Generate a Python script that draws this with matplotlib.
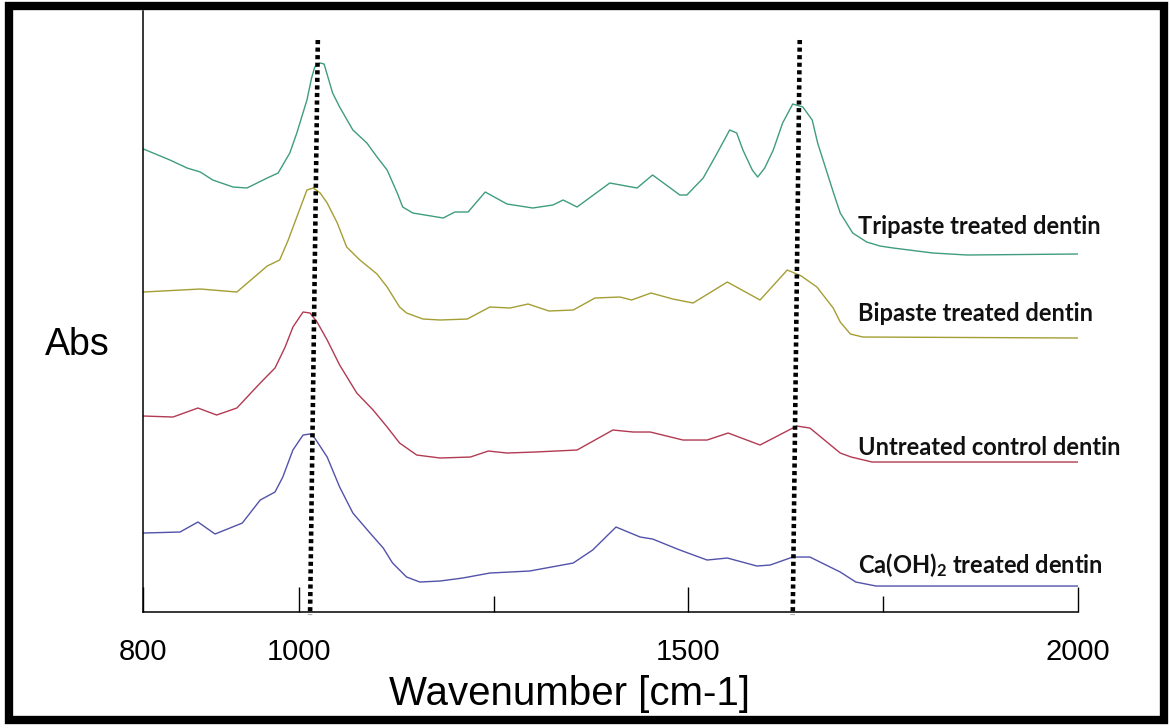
import matplotlib
matplotlib.use("Agg")
import matplotlib.pyplot as plt
from matplotlib.patches import Rectangle

# wavenumber [cm-1] and absorbance (arbitrary, offset stacked)
tri_wn = [800, 834, 856, 873, 889, 915, 933, 959, 973, 988, 997, 1010, 1016, 1020, 1027, 1032,
          1043, 1052, 1069, 1087, 1100, 1113, 1126, 1133, 1146, 1185, 1200, 1217, 1239, 1267,
          1300, 1326, 1339, 1357, 1399, 1434, 1454, 1489, 1498, 1519, 1537, 1553, 1562, 1570,
          1582, 1589, 1598, 1609, 1621, 1634, 1647, 1659, 1666, 1686, 1695, 1711, 1729, 1746,
          1763, 1814, 1858, 2000]
tri_abs = [4.63, 4.52, 4.44, 4.40, 4.32, 4.25, 4.24, 4.34, 4.39, 4.59, 4.79, 5.12, 5.34, 5.45,
           5.49, 5.48, 5.19, 5.05, 4.82, 4.69, 4.55, 4.42, 4.19, 4.05, 3.99, 3.94, 4.00, 4.00,
           4.20, 4.08, 4.04, 4.07, 4.12, 4.05, 4.29, 4.24, 4.37, 4.17, 4.17, 4.34, 4.59, 4.82,
           4.79, 4.62, 4.42, 4.35, 4.44, 4.62, 4.89, 5.08, 5.05, 4.92, 4.69, 4.20, 3.99, 3.79,
           3.70, 3.66, 3.64, 3.59, 3.57, 3.58]

bi_wn = [800, 873, 920, 959, 975, 986, 997, 1010, 1018, 1027, 1036, 1049, 1061, 1078, 1100,
         1113, 1129, 1138, 1159, 1181, 1216, 1245, 1271, 1294, 1321, 1352, 1380, 1412, 1427,
         1452, 1480, 1506, 1550, 1592, 1627, 1645, 1665, 1686, 1695, 1708, 1724, 2000]
bi_abs = [3.20, 3.23, 3.20, 3.46, 3.52, 3.72, 3.95, 4.22, 4.24, 4.19, 4.09, 3.89, 3.65, 3.52, 3.38,
          3.25, 3.05, 2.99, 2.93, 2.92, 2.93, 3.05, 3.04, 3.08, 3.01, 3.02, 3.14, 3.15, 3.12,
          3.19, 3.13, 3.09, 3.30, 3.12, 3.42, 3.36, 3.25, 3.04, 2.90, 2.78, 2.75, 2.74]

un_wn = [800, 838, 870, 894, 920, 950, 969, 982, 992, 1005, 1014, 1023, 1036, 1052, 1074, 1095,
         1113, 1129, 1151, 1181, 1220, 1243, 1267, 1303, 1357, 1403, 1429, 1451, 1493, 1524,
         1551, 1592, 1639, 1656, 1695, 1709, 1736, 2000]
un_abs = [1.96, 1.95, 2.04, 1.97, 2.04, 2.29, 2.44, 2.65, 2.85, 3.00, 2.99, 2.90, 2.72, 2.47, 2.19,
          2.02, 1.85, 1.69, 1.57, 1.54, 1.55, 1.61, 1.59, 1.60, 1.62, 1.82, 1.80, 1.80, 1.72,
          1.72, 1.79, 1.67, 1.86, 1.84, 1.59, 1.55, 1.50, 1.50]

ca_wn = [800, 847, 870, 892, 927, 950, 969, 979, 992, 1005, 1014, 1020, 1036, 1052, 1069, 1091,
         1108, 1120, 1138, 1155, 1181, 1210, 1245, 1296, 1352, 1377, 1407, 1438, 1454, 1489,
         1524, 1550, 1588, 1605, 1634, 1656, 1695, 1715, 1741, 2000]
ca_abs = [0.79, 0.80, 0.90, 0.78, 0.89, 1.12, 1.20, 1.35, 1.62, 1.77, 1.78, 1.74, 1.55, 1.25,
          0.99, 0.79, 0.64, 0.49, 0.35, 0.30, 0.31, 0.34, 0.39, 0.41, 0.49, 0.62, 0.85, 0.75,
          0.73, 0.62, 0.52, 0.54, 0.46, 0.47, 0.55, 0.55, 0.40, 0.30, 0.26, 0.26]

# marker lines (top wn, bottom wn) - drawn slightly slanted in the original
mark1 = [1024, 1014]
mark2 = [1643, 1634]
mark_y = [5.72, -0.03]

labels = ["Tripaste treated dentin", "Bipaste treated dentin",
          "Untreated control dentin", "Ca(OH)$_2$ treated dentin"]
label_y = [3.86, 2.99, 1.65, 0.47]
colors = ["#3f9c80", "#a49e34", "#b23a52", "#5252aa"]

plt.rcParams['mathtext.default'] = 'regular'

fig = plt.figure(figsize=(11.7, 7.28), dpi=100)
ax = fig.add_axes([0.1226, 0.1593, 0.7985, 0.8256])

series = [(tri_wn, tri_abs), (bi_wn, bi_abs), (un_wn, un_abs), (ca_wn, ca_abs)]
for (wn, a), c in zip(series, colors):
    ax.plot(wn, a, color=c, lw=1.0, solid_joinstyle='round')

for m in (mark1, mark2):
    ax.plot(m, mark_y, color='black', lw=3.3, linestyle=(0, (0.9, 0.75)),
            dash_capstyle='butt', clip_on=False)

for txt, y in zip(labels, label_y):
    ax.text(1718, y, txt, fontsize=17, fontweight='bold', family='Lato',
            va='center', ha='left', color='#111111')

ax.set_xlim(800, 2000)
ax.set_ylim(0, 6.01)
ax.set_yticks([])
ax.set_xticks([800, 1000, 1500, 2000])
ax.set_xticklabels(['800', '1000', '1500', '2000'], family='Liberation Sans', fontsize=21)
ax.set_xticks([1250, 1750], minor=True)
ax.tick_params(axis='x', which='major', direction='in', length=18, width=1.0, pad=19)
ax.tick_params(axis='x', which='minor', direction='in', length=11.5, width=1.0)
ax.spines['top'].set_visible(False)
ax.spines['right'].set_visible(False)
ax.spines['left'].set_linewidth(1.1)
ax.spines['bottom'].set_linewidth(1.1)

fig.text(0.0658, 0.526, "Abs", fontsize=27, family='Liberation Sans', ha='center', va='center')
fig.text(0.487, 0.047, "Wavenumber [cm-1]", fontsize=29, family='Liberation Sans',
         ha='center', va='center')

# thick black border round the whole picture
fig.patches.append(Rectangle((0.0077, 0.011), 0.9872, 0.9808, transform=fig.transFigure,
                             fill=False, ec='black', lw=6))

fig.savefig("out.png", dpi=100)
